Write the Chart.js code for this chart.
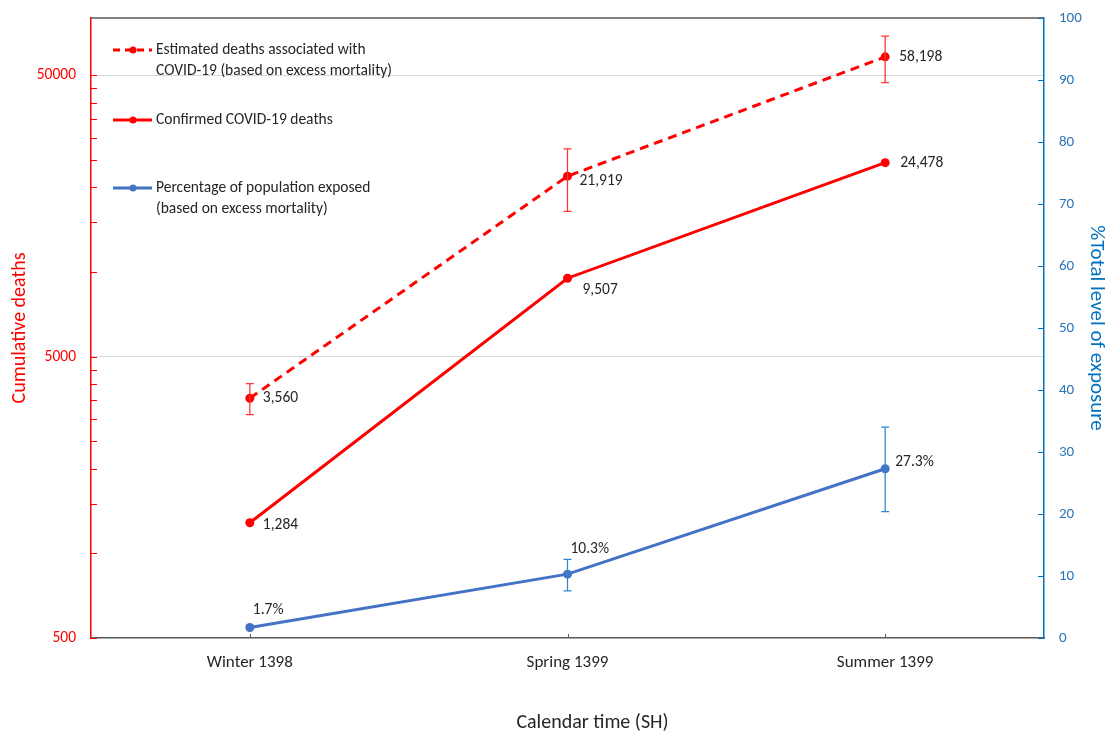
<!DOCTYPE html>
<html>
<head>
<meta charset="utf-8">
<script src="https://cdn.jsdelivr.net/npm/chart.js@4.4.0/dist/chart.umd.min.js"></script>
<style>
  html, body { margin: 0; background: #fff; }
  #wrap { width: 1110px; height: 736px; }
</style>
</head>
<body>
<div id="wrap"><canvas id="chart" width="1110" height="736"></canvas></div>
<script>
const seasons = ["Winter 1398", "Spring 1399", "Summer 1399"];
const estimatedDeaths = [3560, 21919, 58198];
const estimatedLow = [3110, 16440, 47100];
const estimatedHigh = [4010, 27400, 69000];
const confirmedDeaths = [1284, 9507, 24478];
const exposedPct = [1.7, 10.3, 27.3];
const exposedLow = [null, 7.6, 20.4];
const exposedHigh = [null, 12.7, 34.0];
const deathTicks = [500, 5000, 50000];

const FONT = "Calibri, Carlito, Lato, sans-serif";
const RED = "#ff0000";
const BLUE = "#4472c4";
const AXIS_BLUE = "#0070c0";
const TEXT = "#262626";

// label offsets relative to each point (dx, dy)
const labelOffsets = [
    [[13, 0], [12, 5], [14, 0]],
    [[13, 2], [15, 12], [15, 0]],
    [[3, -17], [3, -25], [10, -7]],
];

Chart.defaults.font.family = FONT;

const extras = {
    id: "extras",
    afterDraw(chart) {
        const ctx = chart.ctx;
        const area = chart.chartArea;
        const x = chart.scales.x;
        const y = chart.scales.y;
        const y1 = chart.scales.y1;
        ctx.save();

        // top border
        ctx.strokeStyle = "#595959";
        ctx.lineWidth = 1.5;
        ctx.beginPath();
        ctx.moveTo(area.left, area.top);
        ctx.lineTo(area.right, area.top);
        ctx.stroke();

        // left axis tick marks (inside), minor ticks at 500*k
        ctx.strokeStyle = RED;
        ctx.lineWidth = 1;
        for (let base = 500; base <= 50000; base *= 10) {
            for (let k = 1; k < 10; k++) {
                const v = base * k;
                if (v > 80000) break;
                const py = Math.round(y.getPixelForValue(v)) + 0.5;
                ctx.beginPath();
                ctx.moveTo(area.left, py);
                ctx.lineTo(area.left + 6, py);
                ctx.stroke();
            }
        }

        // right axis ticks
        ctx.strokeStyle = AXIS_BLUE;
        for (let v = 0; v <= 100; v += 10) {
            const py = Math.round(y1.getPixelForValue(v)) + 0.5;
            ctx.beginPath();
            ctx.moveTo(area.right - 6, py);
            ctx.lineTo(area.right, py);
            ctx.stroke();
        }

        // x ticks
        ctx.strokeStyle = "#595959";
        seasons.forEach((s, i) => {
            const px = Math.round(x.getPixelForValue(i)) + 0.5;
            ctx.beginPath();
            ctx.moveTo(px, area.bottom);
            ctx.lineTo(px, area.bottom - 4);
            ctx.stroke();
        });

        // error bars
        function errBar(px, top, bot, color) {
            ctx.strokeStyle = color;
            ctx.lineWidth = 1.25;
            ctx.beginPath();
            ctx.moveTo(px, top); ctx.lineTo(px, bot);
            ctx.moveTo(px - 4, top); ctx.lineTo(px + 4, top);
            ctx.moveTo(px - 4, bot); ctx.lineTo(px + 4, bot);
            ctx.stroke();
        }
        seasons.forEach((s, i) => {
            const px = x.getPixelForValue(i);
            errBar(px, y.getPixelForValue(estimatedHigh[i]), y.getPixelForValue(estimatedLow[i]), "#ff3333");
            if (exposedHigh[i] != null) {
                errBar(px, y1.getPixelForValue(exposedHigh[i]), y1.getPixelForValue(exposedLow[i]), "#2e86d0");
            }
        });

        // data labels
        ctx.fillStyle = TEXT;
        ctx.font = "15.5px " + FONT;
        ctx.textAlign = "left";
        ctx.textBaseline = "middle";
        const fmt = [
            v => v.toLocaleString("en-US"),
            v => v.toLocaleString("en-US"),
            v => v.toFixed(1) + "%",
        ];
        chart.data.datasets.forEach((ds, di) => {
            const meta = chart.getDatasetMeta(di);
            meta.data.forEach((pt, i) => {
                const [dx, dy] = labelOffsets[di][i];
                ctx.fillText(fmt[di](ds.data[i]), pt.x + dx, pt.y + dy);
            });
        });

        // legend
        const items = [
            { y: 50, color: RED, dash: [7, 5], lines: ["Estimated deaths associated with", "COVID-19 (based on excess mortality)"] },
            { y: 120, color: RED, dash: [], lines: ["Confirmed COVID-19 deaths"] },
            { y: 188, color: BLUE, dash: [], lines: ["Percentage of population exposed", "(based on excess mortality)"] },
        ];
        ctx.font = "15.5px " + FONT;
        items.forEach(it => {
            ctx.strokeStyle = it.color;
            ctx.lineWidth = 3;
            ctx.setLineDash(it.dash);
            ctx.beginPath();
            ctx.moveTo(113, it.y);
            ctx.lineTo(152, it.y);
            ctx.stroke();
            ctx.setLineDash([]);
            ctx.fillStyle = it.color;
            ctx.beginPath();
            ctx.arc(133, it.y, 3.5, 0, Math.PI * 2);
            ctx.fill();
            ctx.fillStyle = TEXT;
            it.lines.forEach((t, j) => ctx.fillText(t, 156, it.y + j * 21));
        });

        // x axis title (sits right of centre in the original)
        ctx.font = "20px " + FONT;
        ctx.textAlign = "center";
        ctx.fillStyle = TEXT;
        ctx.fillText("Calendar time (SH)", (area.left + area.right) / 2 + 25, 723);

        ctx.restore();
    }
};

function noPad(s) {
    s.paddingTop = 0;
    s.paddingBottom = 0;
}

new Chart(document.getElementById("chart"), {
    type: "line",
    data: {
        labels: seasons,
        datasets: [
            {
                label: "Estimated deaths associated with COVID-19 (based on excess mortality)",
                data: estimatedDeaths,
                yAxisID: "y",
                borderColor: RED,
                backgroundColor: RED,
                borderWidth: 3,
                borderDash: [9, 6],
                pointRadius: 4.5,
                pointBorderWidth: 0,
            },
            {
                label: "Confirmed COVID-19 deaths",
                data: confirmedDeaths,
                yAxisID: "y",
                borderColor: RED,
                backgroundColor: RED,
                borderWidth: 3,
                pointRadius: 4.5,
                pointBorderWidth: 0,
            },
            {
                label: "Percentage of population exposed (based on excess mortality)",
                data: exposedPct,
                yAxisID: "y1",
                borderColor: BLUE,
                backgroundColor: BLUE,
                borderWidth: 3,
                pointRadius: 4.5,
                pointBorderWidth: 0,
            },
        ],
    },
    options: {
        responsive: false,
        animation: false,
        layout: { padding: { top: 18, left: 0, right: 0, bottom: 0 } },
        plugins: {
            legend: { display: false },
            tooltip: { enabled: false },
        },
        scales: {
            x: {
                type: "category",
                offset: true,
                grid: { drawTicks: false, color: "transparent" },
                border: { color: "#595959", width: 1.5 },
                ticks: { color: TEXT, font: { size: 17 }, padding: 15 },
                afterFit(s) { s.height = 98; },
            },
            y: {
                type: "logarithmic",
                position: "left",
                min: 500,
                max: 80000,
                afterBuildTicks(s) { s.ticks = deathTicks.map(v => ({ value: v })); },
                ticks: { color: RED, font: { size: 15.5 }, padding: 15, callback: v => String(v) },
                grid: {
                    drawTicks: false,
                    color: c => (c.tick && c.tick.value > 500) ? "#d9d9d9" : "transparent",
                },
                border: { color: RED, width: 1.5 },
                title: {
                    display: true,
                    text: "Cumulative deaths",
                    color: RED,
                    font: { size: 20 },
                    padding: { top: 8, bottom: 0 },
                },
                afterFit(s) { s.width = 91; noPad(s); },
            },
            y1: {
                type: "linear",
                position: "right",
                min: 0,
                max: 100,
                ticks: { stepSize: 10, color: "#2e75b6", font: { size: 15 }, padding: 15 },
                grid: { drawOnChartArea: false, drawTicks: false },
                border: { color: AXIS_BLUE, width: 1.5 },
                title: {
                    display: true,
                    text: "%Total level of exposure",
                    color: AXIS_BLUE,
                    font: { size: 21 },
                    padding: { top: 1, bottom: 0 },
                },
                afterFit(s) { s.width = 66; noPad(s); },
            },
        },
    },
    plugins: [extras],
});
</script>
</body>
</html>
